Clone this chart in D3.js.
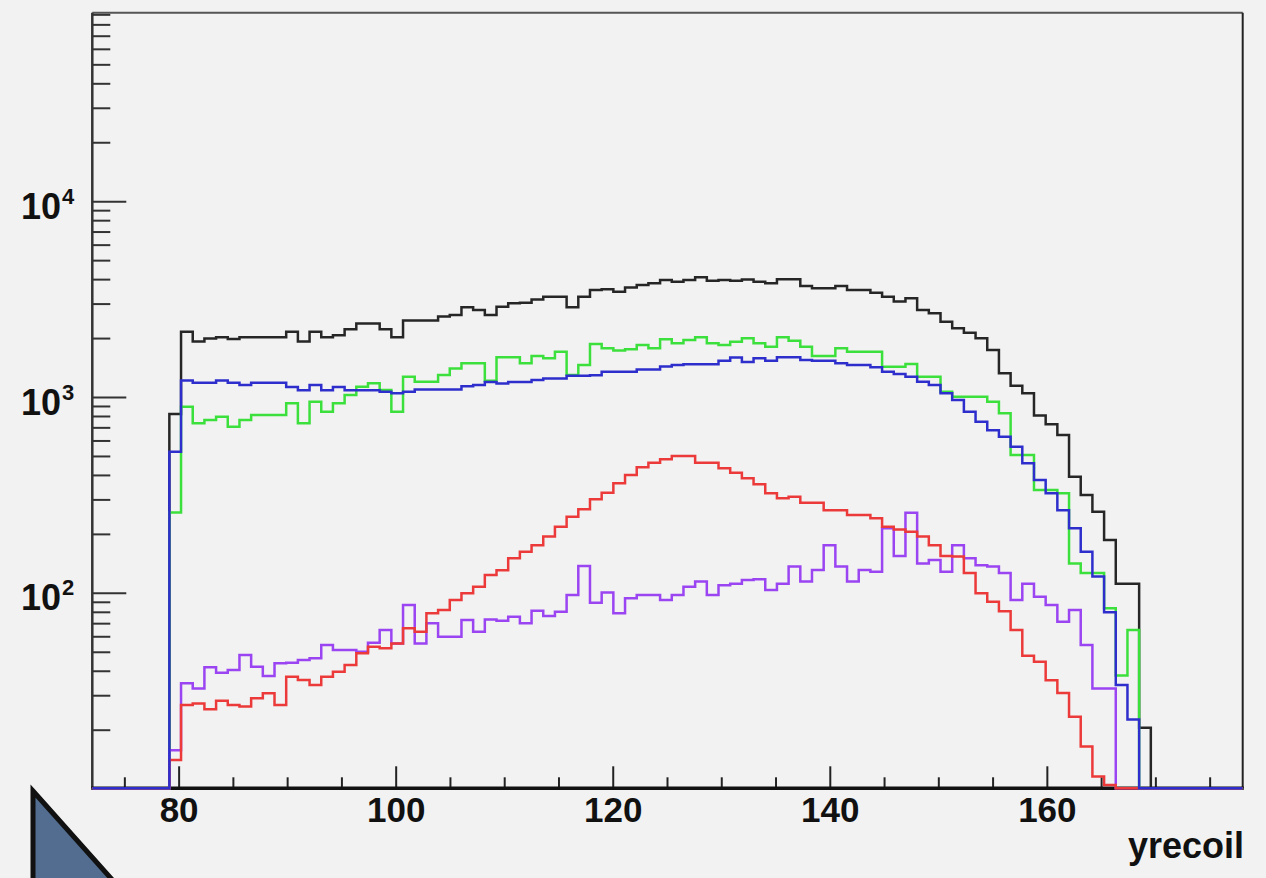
<!DOCTYPE html>
<html>
<head>
<meta charset="utf-8">
<script src="https://cdn.jsdelivr.net/npm/d3@7"></script>
<style>
  html, body { margin: 0; padding: 0; background: #f2f2f2; }
  svg { display: block; }
  text { font-family: "Liberation Sans", Arial, Helvetica, sans-serif; font-weight: bold; fill: #111; }
</style>
</head>
<body>
<svg id="chart"></svg>
<script>
// histogram binning (yrecoil)
const binStart = 79.1;
const binWidth = 1.0766;

// bin contents, one entry per bin
const blackCounts = [
  823, 2170, 1930, 2000, 2030, 1990, 2030, 2030, 2030, 2030,
  2170, 1930, 2170, 2030, 2080, 2230, 2390, 2390, 2230, 2030,
  2470, 2470, 2470, 2590, 2640, 2890, 2800, 2640, 2910, 3030,
  3050, 3170, 3270, 3270, 2890, 3270, 3540, 3570, 3470, 3650,
  3750, 3830, 3980, 3900, 3980, 4110, 3950, 3980, 3950, 4000,
  3900, 3830, 4020, 4020, 3710, 3610, 3610, 3710, 3540, 3540,
  3430, 3270, 3090, 3210, 2800, 2690, 2440, 2260, 2140, 2010,
  1750, 1330, 1150, 1050, 810, 730, 643, 394, 318, 261,
  187, 112, 112, 20.6
];
const greenCounts = [
  259, 897, 738, 767, 798, 710, 767, 814, 814, 814,
  934, 738, 952, 846, 934, 1030, 1136, 1182, 1092, 846,
  1278, 1204, 1204, 1303, 1408, 1495, 1495, 1218, 1605, 1605,
  1495, 1629, 1586, 1713, 1303, 1465, 1876, 1783, 1740, 1762,
  1854, 1783, 1983, 1891, 1967, 2029, 1891, 1854, 1928, 2006,
  1891, 1817, 2029, 1950, 1817, 1629, 1629, 1783, 1713, 1713,
  1713, 1437, 1437, 1483, 1278, 1278, 1070, 1009, 1009, 1009,
  952, 830, 509, 509, 337, 337, 324, 142, 127, 127,
  84, 38, 65, 0
];
const blueCounts = [
  529, 1220, 1190, 1190, 1220, 1190, 1160, 1190, 1190, 1190,
  1130, 1090, 1160, 1090, 1130, 1090, 1090, 1090, 1070, 1050,
  1070, 1100, 1100, 1100, 1100, 1140, 1160, 1200, 1180, 1200,
  1200, 1230, 1250, 1250, 1290, 1290, 1300, 1355, 1355, 1355,
  1390, 1390, 1440, 1465, 1480, 1480, 1480, 1540, 1600, 1520,
  1586, 1542, 1605, 1605, 1554, 1542, 1542, 1495, 1465, 1465,
  1427, 1355, 1318, 1278, 1204, 1158, 1050, 971, 846, 752,
  680, 631, 561, 461, 379, 324, 266, 215, 163, 122,
  80, 34, 22.7, 0
];
const redCounts = [
  14.1, 26.9, 27.4, 25.6, 28.3, 26.9, 26.4, 29.1, 30.9, 26.9,
  37.5, 36.1, 34.0, 37.5, 39.8, 43.0, 49.4, 53.4, 52.4, 55.5,
  66.3, 63.7, 79.1, 82.2, 92.4, 100, 108, 124, 131, 151,
  163, 176, 195, 219, 246, 269, 302, 326, 365, 402,
  440, 465, 484, 502, 502, 465, 465, 435, 413, 387,
  361, 324, 306, 311, 290, 290, 266, 266, 251, 251,
  242, 219, 212, 206, 195, 176, 155, 154, 127, 100,
  90.6, 81, 65, 48, 44.7, 36, 31, 23.4, 16.5, 11.6,
  10.5, 0, 0, 0
];
const purpleCounts = [
  15.8, 34.7, 32.7, 41.9, 39.3, 40.6, 48.4, 42.2, 37.8, 43.9,
  44.2, 45.6, 46.6, 54.4, 51.3, 51.3, 50.3, 55.9, 65, 55.5,
  87.1, 55.5, 70.3, 60, 60, 73, 63.7, 73.6, 72.5, 75.9,
  70.3, 81.5, 76.6, 80.5, 98, 138, 89.5, 101, 79.1, 94.3,
  98, 98, 92.4, 98, 108, 115, 98, 110, 112, 117,
  118, 104, 112, 137, 115, 131.5, 176, 137, 115, 131.5,
  129, 215, 155, 258, 142, 148, 129, 176, 151, 139,
  137, 127, 92.4, 112, 96.2, 87.1, 71.6, 82.2, 54.4, 32.7,
  32.7, 0, 0, 0
];

// axis ticks and labels
const xDomain = [72, 178];
const yDomain = [10.1, 92300];
const xMajorTicks = [80, 100, 120, 140, 160, 180];
const xMinorTicks = [75, 85, 90, 95, 105, 110, 115, 125, 130, 135, 145, 150, 155, 165, 170, 175];
const yLabelExponents = [2, 3, 4];
const xTitle = "yrecoil";

// draw order matters: blue ends up on top along the empty bins
const series = [
  { counts: blackCounts, color: "#262626" },
  { counts: greenCounts, color: "#3ce03c" },
  { counts: purpleCounts, color: "#9a44f2" },
  { counts: redCounts, color: "#ec3a3a" },
  { counts: blueCounts, color: "#2e2ecc" }
];

const width = 1266, height = 878;
const frame = { left: 92.3, right: 1242.7, top: 12.7, bottom: 788.3 };

const svg = d3.select("#chart")
  .attr("width", width)
  .attr("height", height);

svg.append("rect")
  .attr("width", width)
  .attr("height", height)
  .attr("fill", "#f2f2f2");

const x = d3.scaleLinear().domain(xDomain).range([frame.left, frame.right]);
const y = d3.scaleLog().domain(yDomain).range([frame.bottom, frame.top]);

// frame: top and right edges
svg.append("line")
  .attr("x1", frame.left).attr("x2", frame.right)
  .attr("y1", frame.top).attr("y2", frame.top)
  .attr("stroke", "#555").attr("stroke-width", 2);
svg.append("line")
  .attr("x1", frame.right).attr("x2", frame.right)
  .attr("y1", frame.top).attr("y2", frame.bottom)
  .attr("stroke", "#222").attr("stroke-width", 2);

// x axis, ticks point up into the plot
const xAxis = svg.append("g").attr("class", "x-axis");
xAxis.selectAll(".major")
  .data(xMajorTicks.filter(d => d <= xDomain[1]))
  .enter().append("line")
  .attr("x1", d => x(d)).attr("x2", d => x(d))
  .attr("y1", frame.bottom).attr("y2", frame.bottom - 22)
  .attr("stroke", "#222").attr("stroke-width", 2);
xAxis.selectAll(".minor")
  .data(xMinorTicks)
  .enter().append("line")
  .attr("x1", d => x(d)).attr("x2", d => x(d))
  .attr("y1", frame.bottom).attr("y2", frame.bottom - 11)
  .attr("stroke", "#222").attr("stroke-width", 2);
xAxis.selectAll("text")
  .data(xMajorTicks.filter(d => x(d) < frame.right - 60))
  .enter().append("text")
  .attr("x", d => x(d))
  .attr("y", 822)
  .attr("text-anchor", "middle")
  .style("font-size", "35px")
  .text(d => d);

svg.append("text")
  .attr("x", 1244)
  .attr("y", 858)
  .attr("text-anchor", "end")
  .style("font-size", "36px")
  .text(xTitle);

// y axis (log), ticks point right into the plot
const isDecade = d => Math.abs(Math.log10(d) - Math.round(Math.log10(d))) < 1e-9;
const yAxis = svg.append("g").attr("class", "y-axis");
const yTicks = y.ticks().filter(d => d >= yDomain[0] && d <= yDomain[1]);
yAxis.selectAll("line")
  .data(yTicks)
  .enter().append("line")
  .attr("x1", frame.left)
  .attr("x2", d => isDecade(d) ? frame.left + 34 : frame.left + 18)
  .attr("y1", d => y(d)).attr("y2", d => y(d))
  .attr("stroke", "#333").attr("stroke-width", 2);

const yLabel = yAxis.selectAll(".ylab")
  .data(yLabelExponents)
  .enter().append("g")
  .attr("class", "ylab");
yLabel.append("text")
  .attr("x", 61)
  .attr("y", d => y(Math.pow(10, d)) + 17)
  .attr("text-anchor", "end")
  .style("font-size", "36px")
  .text("10");
yLabel.append("text")
  .attr("x", 62)
  .attr("y", d => y(Math.pow(10, d)) + 2)
  .attr("text-anchor", "start")
  .style("font-size", "22px")
  .text(d => d);

// histograms as step outlines, empty bins sit on the bottom edge
svg.append("clipPath").attr("id", "plot-clip")
  .append("rect")
  .attr("x", frame.left).attr("y", frame.top - 2)
  .attr("width", frame.right - frame.left)
  .attr("height", frame.bottom - frame.top + 4);

const stepLine = d3.line()
  .x(d => x(d[0]))
  .y(d => y(Math.max(d[1], yDomain[0])))
  .curve(d3.curveStepAfter);

function outline(counts) {
  const pts = [[xDomain[0], 0]];
  counts.forEach((c, i) => pts.push([binStart + i * binWidth, c]));
  pts.push([binStart + counts.length * binWidth, 0]);
  pts.push([xDomain[1], 0]);
  return pts;
}

// left axis and bottom axis lines, drawn under the histograms
svg.append("line")
  .attr("x1", frame.left).attr("x2", frame.left)
  .attr("y1", frame.top).attr("y2", frame.bottom)
  .attr("stroke", "#333").attr("stroke-width", 2.5);
svg.append("line")
  .attr("x1", frame.left - 1).attr("x2", frame.right + 1)
  .attr("y1", frame.bottom).attr("y2", frame.bottom)
  .attr("stroke", "#111").attr("stroke-width", 3.5);

svg.append("g")
  .attr("clip-path", "url(#plot-clip)")
  .selectAll("path")
  .data(series)
  .enter().append("path")
  .attr("d", d => stepLine(outline(d.counts)))
  .attr("fill", "none")
  .attr("stroke", d => d.color)
  .attr("stroke-width", 2.5);

// slide corner decoration at bottom left
svg.append("path")
  .attr("d", "M33,791 L116,884 L33,884 Z")
  .attr("fill", "#526d8f")
  .attr("stroke", "#111")
  .attr("stroke-width", 5)
  .attr("stroke-linejoin", "miter");
</script>
</body>
</html>
